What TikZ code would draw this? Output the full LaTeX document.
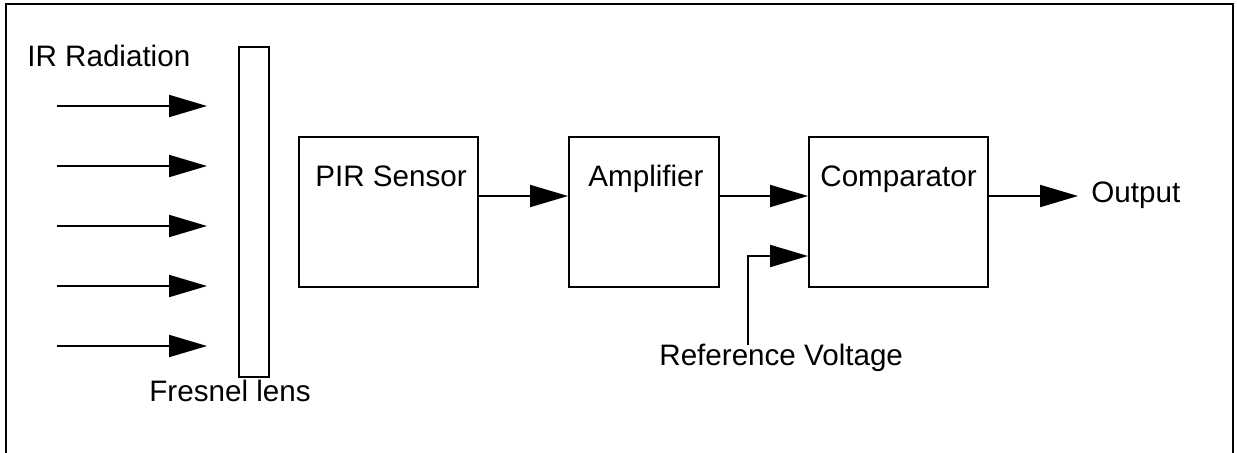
\documentclass[tikz,border=0pt]{standalone}
\usepackage{fontspec}
\setmainfont{Liberation Sans}
\usetikzlibrary{arrows.meta}

\begin{document}
\begin{tikzpicture}[x=0.5pt,y=-0.5pt,
		arr/.style={line width=1pt,-{Triangle[length=19pt,width=11pt]}},
		blk/.style={draw,line width=1pt,rectangle,inner sep=0pt,anchor=north west,minimum height=75pt},
		txt/.style={inner sep=0pt,anchor=base west,font=\fontsize{14.8}{17}\selectfont}]
		\def\sy{196}
		\def\ry{256}
		\clip (0,0) rectangle (1237,452);
		% frame, open at the bottom
		\draw[line width=1.2pt] (6,480) -- (6,4) -- (1233,4) -- (1233,480);
		% blocks
		\node[blk,minimum width=15pt,minimum height=165pt] (lens) at (238,46) {};
		\node[blk,minimum width=89.5pt] (pir) at (298,136) {};
		\node[blk,minimum width=75pt] (amp) at (568,136) {};
		\node[blk,minimum width=89.5pt] (comp) at (808,136) {};
		% labels
		\node[txt] (irtxt) at (27,66) {IR Radiation};
		\node[txt] (lenstxt) at (149,401) {Fresnel lens};
		\node[txt] (pirtxt) at (315,186) {PIR Sensor};
		\node[txt] (amptxt) at (588,186) {Amplifier};
		\node[txt] (comptxt) at (820,186) {Comparator};
		\node[txt] (out) at (1091,202) {Output};
		\node[txt] (refv) at (659,365) {Reference Voltage};
		% radiation
		\foreach \y [count=\i] in {106,166,226,286,346}{
			\coordinate (ir\i) at (57,\y);
			\draw[arr] (ir\i) -- ([xshift=-15.5pt]lens.west |- ir\i);
		}
		% signal path
		\coordinate (sig) at (0,\sy);
		\coordinate (ref) at (0,\ry);
		\coordinate (vin) at (748,345);
		\draw[arr] (pir.east |- sig) -- (amp.west |- sig);
		\draw[arr] (amp.east |- sig) -- (comp.west |- sig);
		\draw[arr] (comp.east |- sig) -- ([xshift=-6.5pt]out.west |- sig);
		\draw[arr] (vin) |- (comp.west |- ref);
\end{tikzpicture}
\end{document}
